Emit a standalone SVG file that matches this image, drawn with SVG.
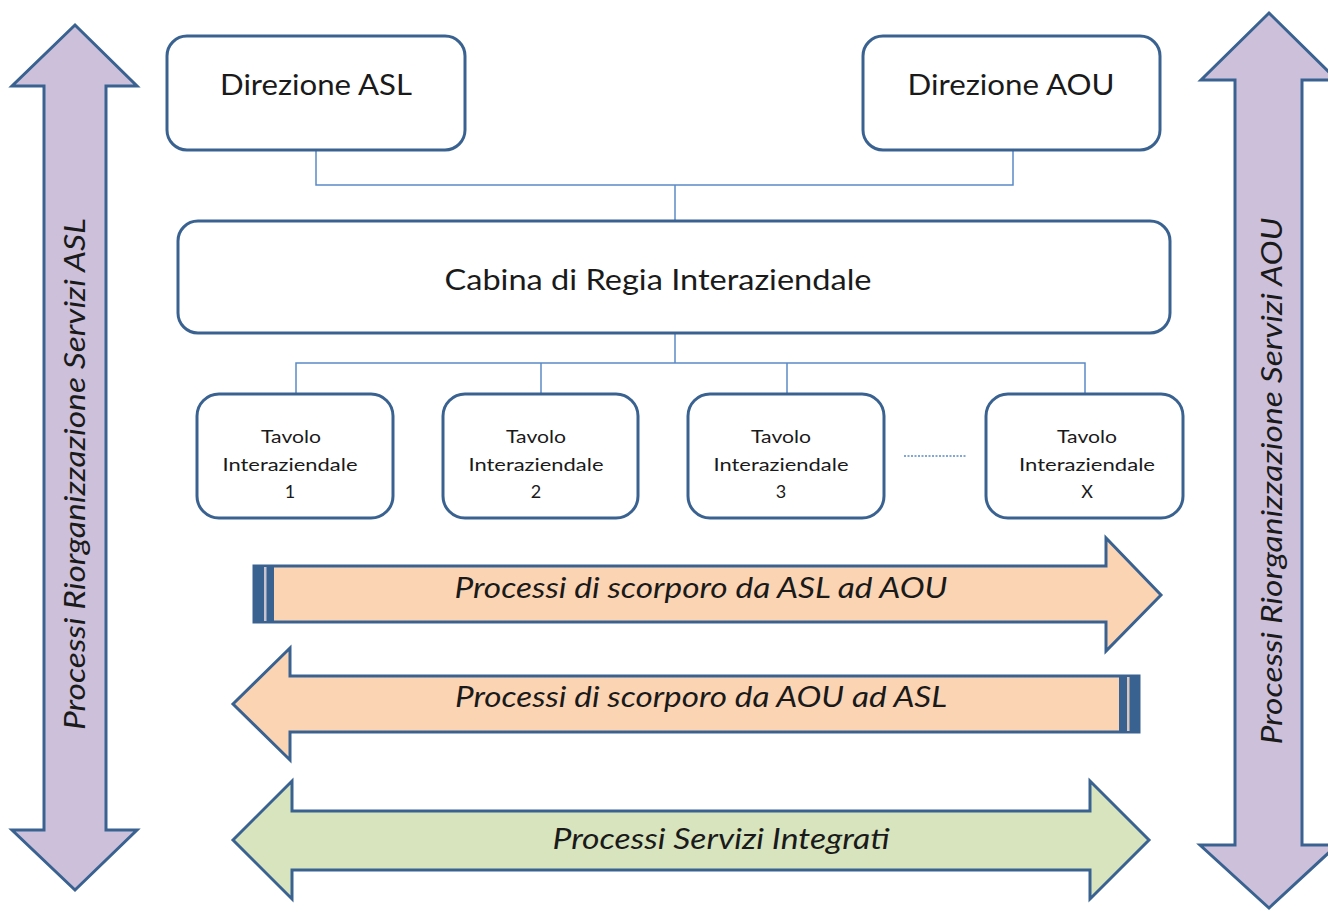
<svg xmlns="http://www.w3.org/2000/svg" width="1328" height="911" viewBox="0 0 1328 911">
<style>
.box{fill:#fff;stroke:#3a6291;stroke-width:3}
.conn{fill:none;stroke:#5b8ac6;stroke-width:1.5}
.arr{stroke:#3a6291;stroke-width:3;stroke-linejoin:miter}
.purple{fill:#ccc0da}
.orange{fill:#fbd4b4}
.green{fill:#d7e4bd}
.t{font-family:Lato,"Open Sans","Liberation Sans",sans-serif;fill:#1a1a1a;text-anchor:middle}
.big{font-size:28px}
.small{font-size:18px}
.it{font-style:italic;font-size:28px}
</style>
<g id="arrow-asl">
<polygon class="arr purple" points="75,25 137,86 106,86 106,830 137,830 75,890 12,830 44,830 44,86 12,86"/>
<text class="t it" transform="translate(85,474) rotate(-90)" textLength="512" lengthAdjust="spacingAndGlyphs">Processi Riorganizzazione Servizi ASL</text>
</g>
<g id="arrow-aou">
<polygon class="arr purple" points="1269,13 1337,80 1302,80 1302,845 1337,845 1269,908 1200,845 1235,845 1235,80 1201,80"/>
<text class="t it" transform="translate(1282,481) rotate(-90)" textLength="527" lengthAdjust="spacingAndGlyphs">Processi Riorganizzazione Servizi AOU</text>
</g>
<g id="connectors">
<polyline class="conn" points="316,150 316,185 1013,185 1013,150"/>
<line class="conn" x1="675" y1="185" x2="675" y2="221"/>
<line class="conn" x1="675" y1="333" x2="675" y2="363"/>
<polyline class="conn" points="296,394 296,363 1085,363 1085,394"/>
<line class="conn" x1="541" y1="363" x2="541" y2="394"/>
<line class="conn" x1="787" y1="363" x2="787" y2="394"/>
<line class="conn" x1="904" y1="456" x2="966" y2="456" stroke-dasharray="2,1.5"/>
</g>
<g id="direzione-asl">
<rect class="box" x="167" y="36" width="298" height="114" rx="20"/>
<text class="t big" x="316" y="95" textLength="192" lengthAdjust="spacingAndGlyphs">Direzione ASL</text>
</g>
<g id="direzione-aou">
<rect class="box" x="863" y="36" width="297" height="114" rx="20"/>
<text class="t big" x="1011" y="95" textLength="207" lengthAdjust="spacingAndGlyphs">Direzione AOU</text>
</g>
<g id="cabina">
<rect class="box" x="178" y="221" width="992" height="112" rx="20"/>
<text class="t big" x="658" y="290" textLength="427" lengthAdjust="spacingAndGlyphs">Cabina di Regia Interaziendale</text>
</g>
<g id="tavolo-1">
<rect class="box" x="197" y="394" width="196" height="124" rx="22"/>
<text class="t small" x="291" y="443" textLength="60" lengthAdjust="spacingAndGlyphs">Tavolo</text>
<text class="t small" x="290" y="471" textLength="135" lengthAdjust="spacingAndGlyphs">Interaziendale</text>
<text class="t small" x="290" y="498">1</text>
</g>
<g id="tavolo-2">
<rect class="box" x="443" y="394" width="195" height="124" rx="22"/>
<text class="t small" x="536" y="443" textLength="60" lengthAdjust="spacingAndGlyphs">Tavolo</text>
<text class="t small" x="536" y="471" textLength="135" lengthAdjust="spacingAndGlyphs">Interaziendale</text>
<text class="t small" x="536" y="498">2</text>
</g>
<g id="tavolo-3">
<rect class="box" x="688" y="394" width="196" height="124" rx="22"/>
<text class="t small" x="781" y="443" textLength="60" lengthAdjust="spacingAndGlyphs">Tavolo</text>
<text class="t small" x="781" y="471" textLength="135" lengthAdjust="spacingAndGlyphs">Interaziendale</text>
<text class="t small" x="781" y="498">3</text>
</g>
<g id="tavolo-x">
<rect class="box" x="986" y="394" width="197" height="124" rx="22"/>
<text class="t small" x="1087" y="443" textLength="60" lengthAdjust="spacingAndGlyphs">Tavolo</text>
<text class="t small" x="1087" y="471" textLength="136" lengthAdjust="spacingAndGlyphs">Interaziendale</text>
<text class="t small" x="1087" y="498">X</text>
</g>
<g id="arrow-asl-aou">
<polygon class="arr orange" points="254,566 1106,566 1106,538 1161,595 1106,651 1106,622 254,622"/>
<rect x="254" y="566" width="20" height="56" fill="#3a6291"/>
<rect x="264" y="567" width="2.5" height="54" fill="#c9c3cf"/>
<text class="t it" x="701" y="598" textLength="493" lengthAdjust="spacingAndGlyphs">Processi di scorporo da ASL ad AOU</text>
</g>
<g id="arrow-aou-asl">
<polygon class="arr orange" points="1139,676 290,676 290,648 233,704 290,760 290,732 1139,732"/>
<rect x="1119" y="676" width="20" height="56" fill="#3a6291"/>
<rect x="1127" y="677" width="2.5" height="54" fill="#d9c8bd"/>
<text class="t it" x="701" y="707" textLength="492" lengthAdjust="spacingAndGlyphs">Processi di scorporo da AOU ad ASL</text>
</g>
<g id="arrow-integrati">
<polygon class="arr green" points="233,840 292,781 292,811 1090,811 1090,781 1149,840 1090,899 1090,870 292,870 292,899"/>
<text class="t it" x="721" y="849" textLength="337" lengthAdjust="spacingAndGlyphs">Processi Servizi Integrati</text>
</g>
</svg>
